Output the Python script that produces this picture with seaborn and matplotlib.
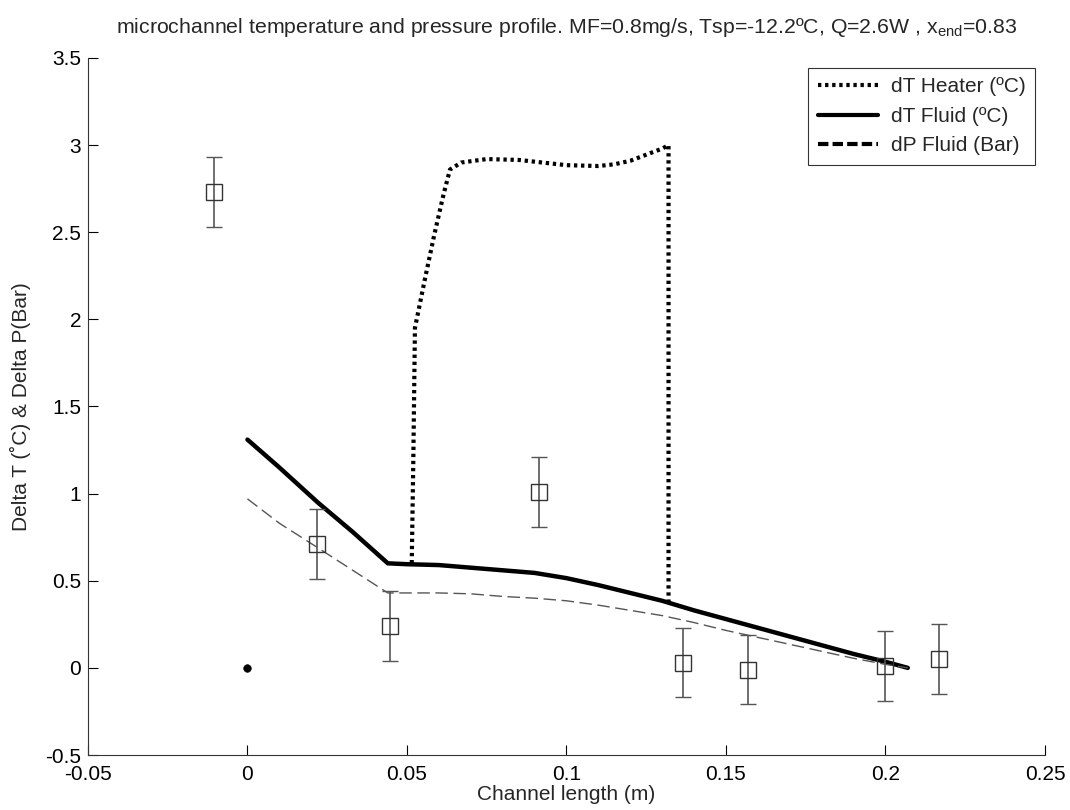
import numpy as np
import pandas as pd
import matplotlib
matplotlib.use("Agg")
import matplotlib.pyplot as plt
from matplotlib.lines import Line2D
import seaborn as sns

# ---- data ----
exp_x = [-0.0105, 0.0218, 0.0447, 0.0914, 0.1365, 0.157, 0.1998, 0.2168]
exp_y = [2.73, 0.71, 0.24, 1.01, 0.03, -0.01, 0.01, 0.05]
exp_err = [0.2, 0.2, 0.2, 0.2, 0.2, 0.2, 0.2, 0.2]

fluid_x = [0, 0.01, 0.022, 0.033, 0.044, 0.05, 0.06, 0.07, 0.08, 0.09, 0.1,
           0.11, 0.12, 0.13, 0.14, 0.15, 0.16, 0.17, 0.18, 0.19, 0.2, 0.207]
fluid_dT = [1.31, 1.15, 0.95, 0.78, 0.60, 0.595, 0.59, 0.575, 0.56, 0.545, 0.515,
            0.475, 0.43, 0.385, 0.33, 0.28, 0.23, 0.18, 0.13, 0.08, 0.035, 0.0]
fluid_dP = [0.97, 0.83, 0.69, 0.56, 0.43, 0.43, 0.43, 0.425, 0.41, 0.40, 0.385,
            0.36, 0.33, 0.30, 0.26, 0.215, 0.175, 0.135, 0.095, 0.055, 0.02, 0.0]

heater_x = [0.0515, 0.0520, 0.0525, 0.0555, 0.0585, 0.0615, 0.0635, 0.067, 0.075,
            0.085, 0.095, 0.1, 0.11, 0.115, 0.12, 0.125, 0.13, 0.132, 0.132]
heater_dT = [0.60, 1.2, 1.95, 2.22, 2.48, 2.72, 2.86, 2.90, 2.92, 2.915, 2.895,
             2.885, 2.88, 2.89, 2.91, 2.945, 2.98, 3.0, 0.38]

origin_x = [0.0]
origin_y = [0.0]

xticks = [-0.05, 0, 0.05, 0.1, 0.15, 0.2, 0.25]
xticklabels = ["-0.05", "0", "0.05", "0.1", "0.15", "0.2", "0.25"]
yticks = [-0.5, 0, 0.5, 1, 1.5, 2, 2.5, 3, 3.5]
yticklabels = ["-0.5", "0", "0.5", "1", "1.5", "2", "2.5", "3", "3.5"]

title = "microchannel temperature and pressure profile. MF=0.8mg/s, Tsp=-12.2ºC, Q=2.6W , x$_{\\mathregular{end}}$=0.83"
legend_labels = ["dT Heater (ºC)", "dT Fluid (ºC)", "dP Fluid (Bar)"]

# ---- style ----
sns.set_style("ticks", {"xtick.direction": "in", "ytick.direction": "in"})
plt.rcParams['font.family'] = ['Liberation Sans', 'DejaVu Sans']
plt.rcParams['mathtext.fontset'] = 'custom'
plt.rcParams['mathtext.rm'] = 'Liberation Sans'

fig = plt.figure(figsize=(10.7, 8.1), dpi=100)
ax = fig.add_axes([0.0822, 0.0679, 0.8944, 0.8605])

heater = pd.DataFrame({"x": heater_x, "y": heater_dT})
fluid = pd.DataFrame({"x": fluid_x, "dT": fluid_dT, "dP": fluid_dP})

sns.lineplot(data=heater, x="x", y="y", sort=False, ax=ax, color="black",
             lw=3, linestyle=(0, (0.8, 0.9)), estimator=None)
sns.lineplot(data=fluid, x="x", y="dT", sort=False, ax=ax, color="black",
             lw=3.2, estimator=None)
sns.lineplot(data=fluid, x="x", y="dP", sort=False, ax=ax, color="#555555",
             lw=1.0, linestyle=(0, (9, 4)), estimator=None)

ax.errorbar(exp_x, exp_y, yerr=exp_err, fmt="s", mfc="none", mec="#333333",
            ms=12, mew=1.0, ecolor="#555555", elinewidth=1.2, capsize=5.5,
            capthick=1.2, zorder=5)
sns.scatterplot(x=origin_x, y=origin_y, ax=ax, color="black", s=30, zorder=6,
                edgecolor="black")

ax.set_xlim(-0.05, 0.25)
ax.set_ylim(-0.5, 3.5)
ax.set_xticks(xticks)
ax.set_xticklabels(xticklabels)
ax.set_yticks(yticks)
ax.set_yticklabels(yticklabels)
ax.tick_params(labelsize=15, length=7, width=0.8, colors="black")
ax.tick_params(axis="x", pad=7)
ax.tick_params(axis="y", pad=5)
for s in ["top", "right"]:
    ax.spines[s].set_visible(False)
for s in ["left", "bottom"]:
    ax.spines[s].set_linewidth(0.8)
    ax.spines[s].set_color("#333333")

ax.set_xlabel("Channel length (m)", fontsize=15, labelpad=1)
ax.set_ylabel("Delta T (˚C) & Delta P(Bar)", fontsize=15, labelpad=10)
ax.set_title(title, fontsize=15.3, pad=18)

handles = [
    Line2D([], [], color="black", lw=3, linestyle=(0, (0.8, 0.9))),
    Line2D([], [], color="black", lw=3),
    Line2D([], [], color="black", lw=3, linestyle=(0, (2.5, 1))),
]
leg = ax.legend(handles, legend_labels, loc="upper right", fontsize=15,
                frameon=True, fancybox=False, edgecolor="black",
                handlelength=2.9, handletextpad=0.6, borderaxespad=0.0,
                labelspacing=0.5, borderpad=0.45,
                bbox_to_anchor=(0.9895, 0.9855))
leg.get_frame().set_linewidth(0.8)

fig.savefig("out.png", dpi=100)
